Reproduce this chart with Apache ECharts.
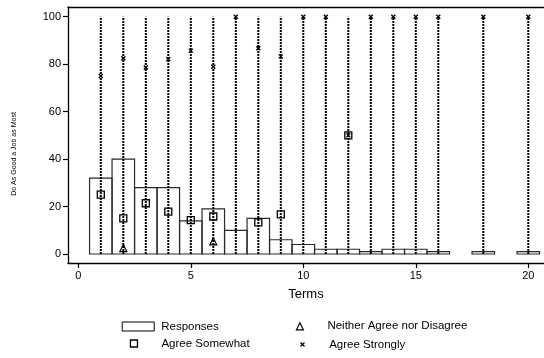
<!DOCTYPE html>
<html>
<head>
<meta charset="utf-8">
<script src="https://cdn.jsdelivr.net/npm/echarts@6/dist/echarts.min.js"></script>
<style>html,body{margin:0;padding:0;background:#fff}#c{width:544px;height:358px}</style>
</head>
<body>
<div id="c"></div>
<script>
const terms = [1,2,3,4,5,6,7,8,9,10,11,12,13,14,15,16,17,18,19,20];
const responses = [32,40,28,28,14,19,10,15,6,4,2,2,1,2,2,1,0,1,0,1];
const agreeStrongly = [75,82.5,78.6,82.1,85.7,78.9,100,86.7,83.3,100,100,50,100,100,100,100,null,100,null,100];
const agreeSomewhat = [25,15,21.4,17.9,14.3,15.8,null,13.3,16.7,null,null,50,null,null,null,null,null,null,null,null];
const neitherAgree = [null,2.5,null,null,null,5.3,null,null,null,null,null,null,null,null,null,null,null,null,null,null];
const spikeLow = [0,0,0,0,0,0,0,0,0,0,0,0,0,0,0,0,null,0,null,0];
const spikeHigh = [100,100,100,100,100,100,100,100,100,100,100,100,100,100,100,100,null,100,null,100];
const xTicks = [0,5,10,15,20];
const yTicks = [0,20,40,60,80,100];

const FONT = 'Liberation Sans, Arial, sans-serif';
const pairs = arr => terms.map((t,i)=>[t,arr[i]]).filter(d=>d[1]!==null && d[1]!==undefined);
const barData = terms.map((t,i)=>[t,responses[i]]).filter(d=>d[1]>0);
const spikeData = terms.map((t,i)=>[t,spikeLow[i],spikeHigh[i]]).filter(d=>d[1]!==null);
const xPath = 'path://M0,0L10,10M0,10L10,0';

const chart = echarts.init(document.getElementById('c'), null, {renderer:'canvas'});
chart.setOption({
  animation:false,
  backgroundColor:'#fff',
  textStyle:{fontFamily:FONT},
  grid:{left:68, right:0, top:7, bottom:95},
  xAxis:[{
    type:'value', min:-0.458, max:20.698, position:'bottom',
    axisLine:{show:true, onZero:false, lineStyle:{color:'#000', width:1.3}},
    axisTick:{show:true, length:5, customValues:xTicks, lineStyle:{color:'#000', width:1.2}},
    axisLabel:{show:true, customValues:xTicks, margin:7, fontSize:11, color:'#000', fontFamily:FONT},
    splitLine:{show:false},
    name:'Terms', nameLocation:'middle', nameGap:25,
    nameTextStyle:{fontSize:13, color:'#000', fontFamily:FONT}
  },{
    type:'value', min:-0.458, max:20.698, position:'top',
    axisLine:{show:true, onZero:false, lineStyle:{color:'#000', width:1.3}},
    axisTick:{show:false}, axisLabel:{show:false}, splitLine:{show:false}
  }],
  yAxis:{
    type:'value', min:-3.79, max:104.1,
    axisLine:{show:true, onZero:false, lineStyle:{color:'#000', width:1.3}},
    axisTick:{show:true, length:5, customValues:yTicks, lineStyle:{color:'#000', width:1.2}},
    axisLabel:{show:true, customValues:yTicks, margin:7, fontSize:11, color:'#000', fontFamily:FONT},
    splitLine:{show:false}
  },
  graphic:[{
    type:'text', x:14, y:154, rotation:Math.PI/2,
    style:{text:'Do As Good a Job as Most', fontSize:7, fontFamily:FONT, fill:'#000', align:'center', verticalAlign:'middle'}
  }],
  legend:[
    {data:[{name:'Responses', icon:'rect', itemStyle:{color:'#fff', borderColor:'#000', borderWidth:1}}],
     left:121.7, top:320.5, padding:0, itemWidth:32, itemHeight:9, selectedMode:false,
     textStyle:{fontSize:11.5, color:'#000', fontFamily:FONT, padding:[0,0,0,2]}},
    {data:[{name:'Agree Somewhat', icon:'rect', itemStyle:{color:'#fff', borderColor:'#000', borderWidth:1.3}}],
     left:129.8, top:337.5, padding:0, itemWidth:7, itemHeight:7, selectedMode:false,
     textStyle:{fontSize:11.5, color:'#000', fontFamily:FONT, padding:[0,0,0,19]}},
    {data:[{name:'Neither Agree nor Disagree', icon:'triangle', itemStyle:{color:'#fff', borderColor:'#000', borderWidth:1.2}}],
     left:295.8, top:320.3, padding:0, itemWidth:7, itemHeight:7, selectedMode:false,
     textStyle:{fontSize:11.5, color:'#000', fontFamily:FONT, padding:[0,0,0,19]}},
    {data:[{name:'Agree Strongly', icon:xPath, itemStyle:{color:'none', borderColor:'#000', borderWidth:1.2}}],
     left:298, top:338.5, padding:0, itemWidth:4, itemHeight:4, selectedMode:false,
     textStyle:{fontSize:11.5, color:'#000', fontFamily:FONT, padding:[0,0,0,19.7]}}
  ],
  series:[
    {
      name:'Responses', type:'custom', data:barData, z:2,
      renderItem:(params, api)=>{
        const x = api.value(0), y = api.value(1);
        const p0 = api.coord([x-0.5, y]);
        const p1 = api.coord([x+0.5, 0]);
        return {type:'rect', shape:{x:p0[0], y:p0[1], width:p1[0]-p0[0], height:p1[1]-p0[1]},
          style:{fill:'none', stroke:'#2a2a2a', lineWidth:1.2}};
      }
    },
    {
      name:'spikes', type:'custom', data:spikeData, z:3, silent:true,
      renderItem:(params, api)=>{
        const x = api.value(0);
        const a = api.coord([x, api.value(1)]);
        const b = api.coord([x, api.value(2)]);
        return {type:'line', shape:{x1:a[0], y1:a[1], x2:b[0], y2:b[1]},
          style:{stroke:'#000', lineWidth:2, lineDash:[2,1]}};
      }
    },
    {
      name:'Agree Somewhat', type:'scatter', data:pairs(agreeSomewhat), z:4,
      symbol:'rect', symbolSize:7,
      itemStyle:{color:'rgba(0,0,0,0)', borderColor:'#000', borderWidth:1.3, opacity:1}
    },
    {
      name:'Neither Agree nor Disagree', type:'scatter', data:pairs(neitherAgree), z:4,
      symbol:'triangle', symbolSize:7,
      itemStyle:{color:'rgba(0,0,0,0)', borderColor:'#000', borderWidth:1.2, opacity:1}
    },
    {
      name:'Agree Strongly', type:'scatter', data:pairs(agreeStrongly), z:5,
      symbol:xPath, symbolSize:4,
      itemStyle:{color:'rgba(0,0,0,0)', borderColor:'#000', borderWidth:1.3, opacity:1}
    }
  ]
});
</script>
</body>
</html>
